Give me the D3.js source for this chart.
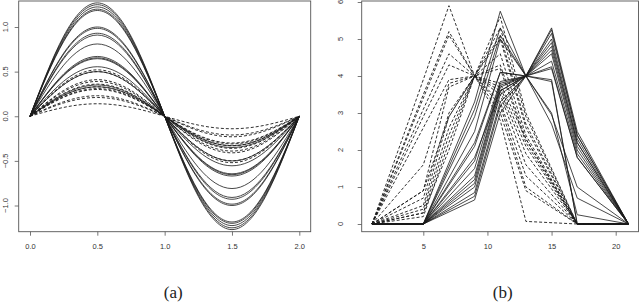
<!DOCTYPE html>
<html>
<head>
<meta charset="utf-8">
<script src="https://cdn.jsdelivr.net/npm/d3@7/dist/d3.min.js"></script>
<style>
  body { margin: 0; background: #fff; }
  text { font-family: "Liberation Sans", Arial, sans-serif; }
</style>
</head>
<body>
<svg id="chart" width="640" height="302"></svg>
<script>
// (a) amplitudes of the curves
var solidAmp = [1.27, 1.25, 1.225, 1.2, 1.185, 1.0, 0.985, 0.93, 0.91, 0.81, 0.67, 0.655, 0.645, 0.555, 0.5, 0.35, 0.33];
var dashedAmp = [0.52, 0.5, 0.41, 0.39, 0.36, 0.33, 0.31, 0.3, 0.23, 0.21, 0.14];
// common shape of the (a) curves
var shapeX = [0, 0.25, 0.5, 0.75, 1, 1.25, 1.5, 1.75, 2];
var shapeY = [0, 0.707, 1, 0.707, 0, -0.707, -1, -0.707, 0];
var aTicksX = [0, 0.5, 1, 1.5, 2];
var aTicksY = [-1, -0.5, 0, 0.5, 1];

// (b) piecewise linear curves
var solidX = [1, 5, 9, 11, 13, 15, 17, 21];
var solidY = [
  [0, 0, 3.3, 5.75, 4, 2.95, 1.0, 0],
  [0, 0, 3.1, 5.3, 4, 2.7, 0.7, 0],
  [0, 0, 2.9, 5.1, 4, 3.0, 0.25, 0],
  [0, 0, 2.5, 5.0, 4, 3.85, 0, 0],
  [0, 0, 2.2, 4.1, 4, 3.9, 0, 0],
  [0, 0, 0.65, 3.0, 4, 5.3, 2.5, 0],
  [0, 0, 0.75, 3.2, 4, 5.25, 2.4, 0],
  [0, 0, 0.85, 3.3, 4, 5.15, 2.4, 0],
  [0, 0, 1.0, 3.5, 4, 5.0, 2.3, 0],
  [0, 0, 1.1, 3.6, 4, 4.9, 2.2, 0],
  [0, 0, 1.2, 3.7, 4, 4.8, 2.2, 0],
  [0, 0, 1.3, 3.75, 4, 4.7, 2.1, 0],
  [0, 0, 1.5, 3.8, 4, 4.6, 2.0, 0],
  [0, 0, 1.7, 3.85, 4, 4.4, 1.9, 0],
  [0, 0, 1.8, 3.6, 4, 4.25, 1.8, 0],
  [0, 0, 2.1, 4.1, 4, 4.2, 1.8, 0]
];
var dashedX = [1, 5, 7, 9, 11, 13, 17, 21];
var dashedY = [
  [0, 3.9, 5.9, 4, 2.8, 0.07, 0, 0],
  [0, 3.5, 5.2, 4, 3.0, 0.9, 0, 0],
  [0, 3.4, 5.1, 4, 3.2, 1.0, 0, 0],
  [0, 3.1, 4.6, 4, 3.3, 1.3, 0, 0],
  [0, 2.9, 4.3, 4, 3.5, 1.6, 0, 0],
  [0, 2.6, 3.9, 4, 3.6, 1.9, 0, 0],
  [0, 1.6, 3.8, 4, 3.7, 2.1, 0, 0],
  [0, 0.9, 3.7, 4, 3.8, 2.3, 0, 0],
  [0, 0.7, 3.0, 4, 5.6, 3.0, 0, 0],
  [0, 0.5, 2.9, 4, 5.3, 2.9, 0, 0],
  [0, 0.4, 2.6, 4, 5.1, 2.7, 0, 0],
  [0, 0.3, 2.4, 4, 5.0, 2.6, 0, 0],
  [0, 0.2, 2.2, 4, 4.6, 2.4, 0, 0],
  [0, 0.9, 2.9, 4, 4.3, 2.3, 0, 0],
  [0, 0.3, 2.0, 4, 4.2, 2.2, 0, 0]
];
var bTicksX = [5, 10, 15, 20];
var bTicksY = [0, 1, 2, 3, 4, 5, 6];

var svg = d3.select('#chart');
var ink = '#1a1a1a';
var dash = '3,2';

function panel(box, x, y, ticksX, ticksY, fmtX, fmtY, labelX, caption, captionX) {
  var g = svg.append('g');
  // x axis
  var ax = g.append('g')
    .attr('transform', 'translate(0,' + box.b + ')')
    .call(d3.axisBottom(x).tickValues(ticksX).tickSize(4).tickSizeOuter(0).tickPadding(8.4).tickFormat(fmtX));
  ax.select('.domain').remove();
  ax.selectAll('line').attr('stroke', '#555').attr('stroke-width', 0.8);
  ax.selectAll('text').attr('fill', '#333').style('font-size', '7.5px');
  // y axis, labels rotated like R
  var ay = g.append('g')
    .attr('transform', 'translate(' + box.l + ',0)')
    .call(d3.axisLeft(y).tickValues(ticksY).tickSize(4).tickSizeOuter(0).tickFormat(''));
  ay.select('.domain').remove();
  ay.selectAll('line').attr('stroke', '#555').attr('stroke-width', 0.8);
  g.selectAll('.ylab')
    .data(ticksY)
    .enter().append('text')
      .attr('transform', function(d) { return 'translate(' + labelX + ',' + y(d) + ') rotate(-90)'; })
      .attr('text-anchor', 'middle')
      .attr('fill', '#333')
      .style('font-size', '7.5px')
      .text(fmtY);
  // box
  g.append('rect')
    .attr('x', box.l).attr('y', box.t)
    .attr('width', box.r - box.l).attr('height', box.b - box.t)
    .attr('fill', 'none').attr('stroke', '#555').attr('stroke-width', 0.9);
  // caption
  svg.append('text')
    .attr('x', captionX).attr('y', 292)
    .attr('text-anchor', 'middle')
    .attr('dominant-baseline', 'central')
    .style('font-family', '"Liberation Serif", "DejaVu Serif", serif')
    .style('font-size', '17px')
    .attr('fill', '#222')
    .text(caption);
  return g;
}

// ---- (a) ----
var boxA = { l: 18.7, r: 310.7, t: 1, b: 231.7 };
var xa = d3.scaleLinear().domain([0, 2]).range([30, 299.3]);
var ya = d3.scaleLinear().domain([-1, 1]).range([205.5, 27]);
var gA = panel(boxA, xa, ya, aTicksX, aTicksY, d3.format('.1f'), d3.format('.1f'), 7.8, '(a)', 173.3);

var sineLine = function(amp) {
  var pts = shapeX.map(function(v, i) { return [v, amp * shapeY[i]]; });
  return d3.line().x(function(d) { return xa(d[0]); }).y(function(d) { return ya(d[1]); })
    .curve(d3.curveNatural)(pts);
};
gA.selectAll('.sa')
  .data(dashedAmp)
  .enter().append('path')
    .attr('d', sineLine)
    .attr('fill', 'none').attr('stroke', ink).attr('stroke-width', 0.9)
    .attr('stroke-dasharray', dash);
gA.selectAll('.sb')
  .data(solidAmp)
  .enter().append('path')
    .attr('d', sineLine)
    .attr('fill', 'none').attr('stroke', ink).attr('stroke-width', 0.8);

// ---- (b) ----
var boxB = { l: 361.7, r: 638.5, t: 1, b: 231.7 };
var xb = d3.scaleLinear().domain([5, 20]).range([423.3, 615.7]);
var yb = d3.scaleLinear().domain([0, 5]).range([224, 39]);
var gB = panel(boxB, xb, yb, bTicksX, bTicksY, d3.format('d'), d3.format('d'), 342.5, '(b)', 502.7);

var polyLine = function(xs) {
  return function(ys) {
    var pts = ys.map(function(v, i) { return [xs[i], v]; });
    return d3.line().x(function(d) { return xb(d[0]); }).y(function(d) { return yb(d[1]); })(pts);
  };
};
gB.selectAll('.da')
  .data(dashedY)
  .enter().append('path')
    .attr('d', polyLine(dashedX))
    .attr('fill', 'none').attr('stroke', ink).attr('stroke-width', 0.9)
    .attr('stroke-dasharray', dash);
gB.selectAll('.db')
  .data(solidY)
  .enter().append('path')
    .attr('d', polyLine(solidX))
    .attr('fill', 'none').attr('stroke', ink).attr('stroke-width', 0.8);
</script>
</body>
</html>
